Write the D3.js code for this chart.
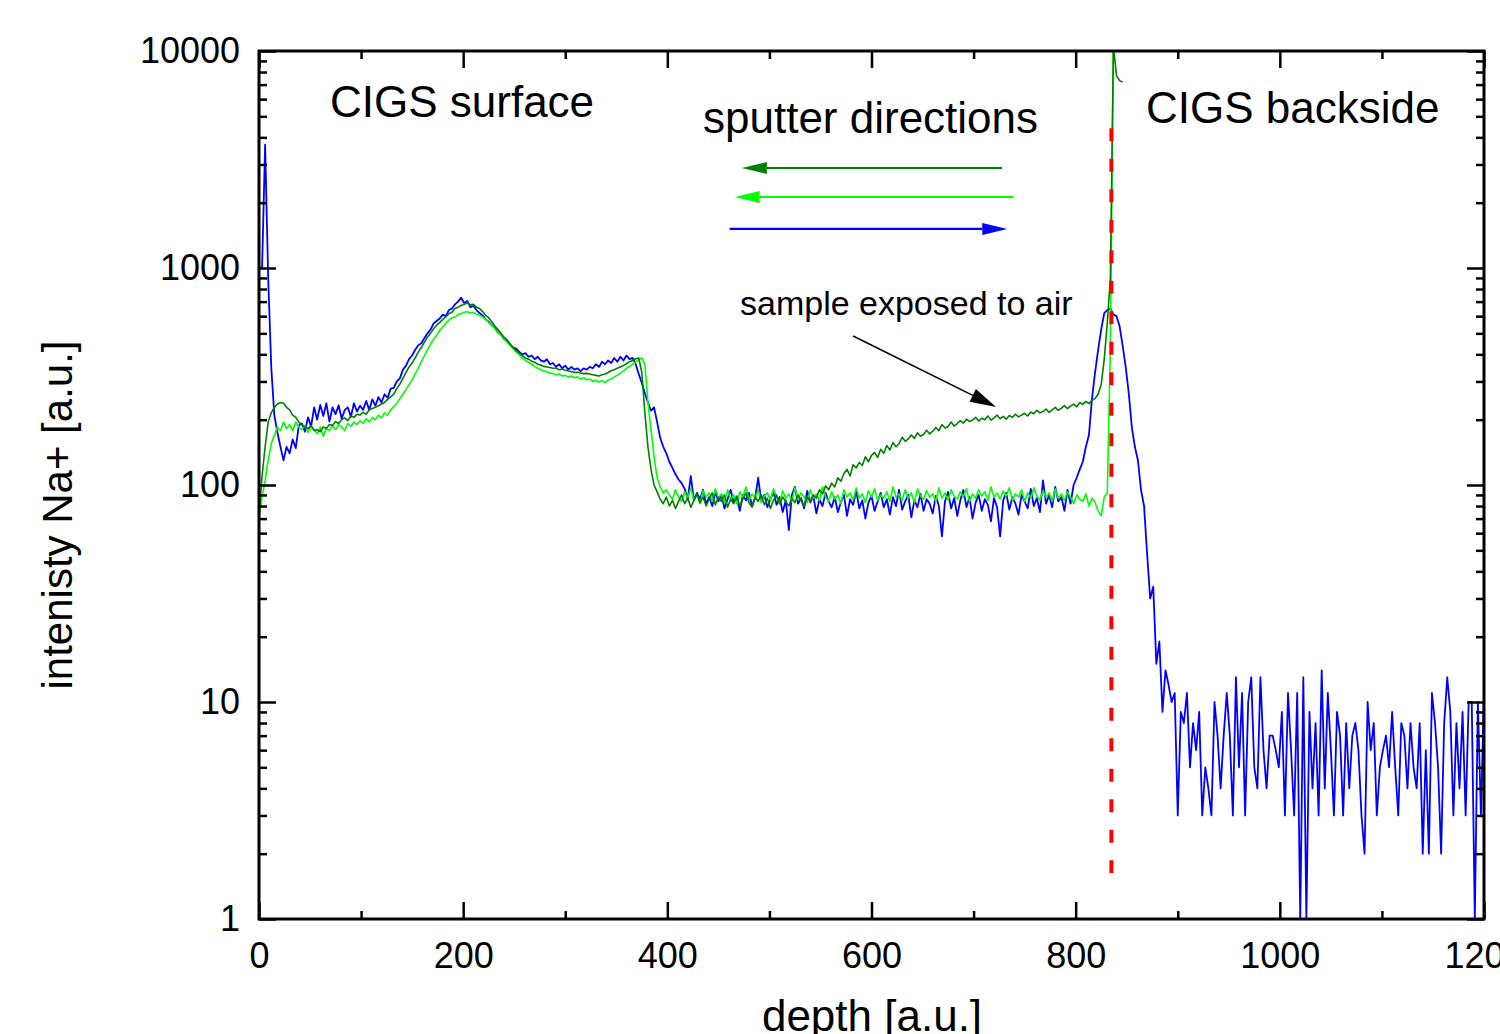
<!DOCTYPE html>
<html><head><meta charset="utf-8">
<script src="https://cdn.jsdelivr.net/npm/d3@7"></script>
<style>
body{margin:0;background:#fff}
svg{display:block}
text{font-family:"Liberation Sans",Arial,Helvetica,sans-serif;fill:#000}
</style>
</head><body>
<svg id="c" width="1500" height="1034"></svg>
<script>
// ---------------- data ----------------
const depthStep = 3; // depth spacing of the sampled points [a.u.]

// blue: sputtered from CIGS surface towards backside (d = 0 .. 1200)
const blueValues = [
/*0*/    1000,1000,3700,900,350,210,175,150,130,150,
/*30*/   140,162,148,188,192,176,205,186,228,200,
/*60*/   234,208,238,196,228,212,233,202,222,228,
/*90*/   206,238,218,232,222,244,222,248,232,254,
/*120*/  240,262,252,278,280,300,310,340,355,380,
/*150*/  395,420,440,450,475,500,520,555,570,585,
/*180*/  610,600,640,650,680,700,730,690,705,660,
/*210*/  670,640,620,605,580,565,545,530,505,495,
/*240*/  470,465,445,430,425,410,400,405,390,395,
/*270*/  380,390,375,370,380,360,365,350,360,345,
/*300*/  355,340,350,340,345,335,345,340,350,345,
/*330*/  360,350,370,360,375,365,385,370,390,375,
/*360*/  395,380,385,360,325,295,265,240,220,228,
/*390*/  195,165,150,140,128,120,112,106,102,96,
/*420*/  86,110,85,92,86,95,82,88,80,93,
/*450*/  84,90,78,86,95,83,88,76,90,85,
/*480*/  92,80,87,108,84,90,79,86,93,81,
/*510*/  88,75,85,62,90,98,82,87,78,94,
/*540*/  83,89,74,86,80,92,84,79,88,75,
/*570*/  83,90,72,86,81,94,78,85,70,83,
/*600*/  89,76,84,92,79,86,73,88,80,95,
/*630*/  77,84,90,71,85,79,91,76,86,82,
/*660*/  74,89,80,58,84,93,78,87,72,85,
/*690*/  95,79,88,70,83,90,76,86,81,68,
/*720*/  87,79,58,85,92,77,88,82,73,90,
/*750*/  84,78,96,80,87,75,105,82,90,79,
/*780*/  98,84,88,76,95,82,100,108,118,128,
/*810*/  150,170,250,330,420,520,620,640,650,610,
/*840*/  600,540,440,350,265,185,150,130,95,80,
/*870*/  48,30,34,15,19,9,14,12,10,11,
/*900*/  3,9,8,11,5,8,6,9,3,5,
/*930*/  4,3,10,7,4,7,11,7,3,13,
/*960*/  5,11,3,10,13,5,4,13,6,4,
/*990*/  7,7,6,5,9,3,11,6,3,11,
/*1020*/ 1,13,1,9,4,8,3,14,4,11,
/*1050*/ 6,3,9,7,3,8,4,7,8,6,
/*1080*/ 3,2,10,6,8,3,5,6,7,5,
/*1110*/ 9,5,3,8,7,4,8,5,4,8,
/*1140*/ 2,6,2,11,8,5,2,8,13,9,
/*1170*/ 3,8,4,9,3,10,10,1,10,3,
/*1200*/ 11
];

// dark green: sputtered from backside, sample exposed to air (d = 0 .. 846)
const darkGreenValues = [
/*0*/    72,110,150,195,215,228,236,240,238,228,
/*30*/   222,210,205,195,190,185,182,188,178,180,
/*60*/   176,185,182,190,188,196,192,200,204,198,
/*90*/   208,205,212,210,216,212,222,225,228,232,
/*120*/  236,240,248,255,262,278,292,310,330,350,
/*150*/  365,385,410,430,455,480,500,525,545,560,
/*180*/  580,595,615,625,650,660,672,680,690,675,
/*210*/  680,660,650,630,605,590,565,540,520,500,
/*240*/  480,465,445,430,415,405,395,385,380,372,
/*270*/  368,360,357,352,350,348,345,345,340,342,
/*300*/  338,335,333,330,331,328,326,327,325,322,
/*330*/  320,318,322,325,330,336,340,345,350,355,
/*360*/  362,370,375,382,385,330,215,150,118,100,
/*390*/  93,86,82,88,80,85,78,84,90,82,
/*420*/  87,79,85,91,83,88,80,86,92,81,
/*450*/  88,84,90,79,86,82,89,80,86,92,
/*480*/  83,79,88,84,90,81,87,78,85,90,
/*510*/  82,88,84,80,87,83,90,85,80,88,
/*540*/  84,90,87,95,91,99,95,102,98,108,
/*570*/  104,113,118,110,124,120,127,123,135,128,
/*600*/  137,141,134,146,140,152,145,157,150,155,
/*630*/  166,159,163,170,164,174,168,171,179,172,
/*660*/  177,184,178,190,183,186,195,187,192,198,
/*690*/  193,201,196,199,205,197,203,200,208,199,
/*720*/  204,210,202,207,201,209,205,212,206,210,
/*750*/  214,208,217,213,221,215,218,224,216,222,
/*780*/  228,221,226,232,225,231,236,229,240,235,
/*810*/  243,237,246,250,262,290,380,560,900,10500,
/*840*/  7700,7300,7200
];

// light green: sputtered from backside (d = 0 .. 837)
const lightGreenValues = [
/*0*/    70,88,105,130,155,170,185,178,195,182,
/*30*/   190,178,195,185,180,188,175,186,180,172,
/*60*/   185,168,182,178,188,180,190,185,178,192,
/*90*/   186,195,190,198,192,202,195,205,200,210,
/*120*/  204,215,210,222,230,238,250,262,275,290,
/*150*/  305,325,345,370,395,420,445,470,490,515,
/*180*/  535,555,575,590,595,610,615,625,628,620,
/*210*/  625,612,605,595,580,560,545,525,505,490,
/*240*/  470,455,440,425,410,398,385,375,368,360,
/*270*/  352,345,340,336,332,328,326,322,325,318,
/*300*/  320,315,318,312,315,308,312,305,308,300,
/*330*/  304,298,302,296,305,308,315,320,328,335,
/*360*/  345,352,360,370,378,385,360,240,180,135,
/*390*/  108,98,92,95,90,86,95,88,84,93,
/*420*/  87,97,85,90,82,94,88,92,84,96,
/*450*/  87,91,83,95,86,90,82,93,88,98,
/*480*/  85,91,87,95,83,89,92,85,96,88,
/*510*/  82,94,87,91,84,97,86,92,88,83,
/*540*/  95,87,91,85,98,88,84,93,86,90,
/*570*/  82,95,88,92,85,97,87,91,83,94,
/*600*/  88,96,85,90,87,93,84,98,88,91,
/*630*/  85,95,87,92,83,96,89,86,94,88,
/*660*/  91,84,97,87,92,85,95,89,86,93,
/*690*/  88,96,84,91,87,95,89,93,85,98,
/*720*/  88,92,86,94,89,97,85,91,88,95,
/*750*/  84,92,87,97,89,85,94,88,92,84,
/*780*/  96,87,91,85,93,88,82,90,86,84,
/*810*/  91,80,87,83,76,72,88,92,430,12000
];

const xMajorTicks = [0,200,400,600,800,1000,1200];
const xMinorTicks = [100,300,500,700,900,1100];
const yMajorTicks = [1,10,100,1000,10000];
const yMinorTicks = [2,3,4,5,6,7,8,9,20,30,40,50,60,70,80,90,200,300,400,500,600,700,800,900,2000,3000,4000,5000,6000,7000,8000,9000];

const interfaceDepth = 835;          // red dashed line
const interfaceRange = [1.63, 4400]; // its vertical extent (intensity)

// sputter-direction arrows [depth from, depth to, intensity level]
const sputterArrows = [
  {color:"#007f00", from:728, to:473, level:2890},
  {color:"#00ff00", from:739, to:466, level:2124},
  {color:"#0000ff", from:461, to:733, level:1513}
];
// "sample exposed to air" pointer [depth, intensity]
const airArrow = {from:[582, 486], to:[722, 229]};

// ---------------- drawing ----------------
const svg = d3.select("#c");
const P = {left:259, right:1484, top:51, bottom:919};
const x = d3.scaleLinear().domain([0,1200]).range([P.left, P.right]);
const y = d3.scaleLog().domain([1,10000]).range([P.bottom, P.top]);

svg.append("rect").attr("width",1500).attr("height",1034).attr("fill","#fff");

svg.append("clipPath").attr("id","clip").append("rect")
  .attr("x",P.left).attr("y",P.top).attr("width",P.right-P.left).attr("height",P.bottom-P.top);

const plotG = svg.append("g").attr("clip-path","url(#clip)");
const line = d3.line().x((v,i)=>x(i*depthStep)).y(v=>y(v));

plotG.append("path").datum(blueValues).attr("d",line)
  .attr("fill","none").attr("stroke","#0000ff").attr("stroke-width",1.8).attr("stroke-linejoin","round");
plotG.append("path").datum(lightGreenValues).attr("d",line)
  .attr("fill","none").attr("stroke","#00ff00").attr("stroke-width",1.6).attr("stroke-linejoin","round");
plotG.append("path").datum(darkGreenValues).attr("d",line)
  .attr("fill","none").attr("stroke","#007f00").attr("stroke-width",1.6).attr("stroke-linejoin","round");

// red dashed interface line
svg.append("line")
  .attr("x1",x(interfaceDepth)).attr("x2",x(interfaceDepth))
  .attr("y1",y(interfaceRange[1])).attr("y2",y(interfaceRange[0]))
  .attr("stroke","#ff0000").attr("stroke-width",4).attr("stroke-dasharray","13 17.5");

// axes
function addAxis(gen, vals, len, tr, fmt, pad){
  const a = gen.tickValues(vals).tickSize(-len).tickSizeOuter(0).tickPadding(pad||3);
  a.tickFormat(fmt || (()=>""));
  const g = svg.append("g").attr("transform",tr).call(a);
  g.select(".domain").remove();
  g.selectAll(".tick line").attr("stroke","#000").attr("stroke-width",2.5);
  g.selectAll("text").attr("font-size",36).attr("fill","#000")
    .attr("font-family",'"Liberation Sans",Arial,sans-serif');
  return g;
}
addAxis(d3.axisBottom(x), xMajorTicks, 17, `translate(0,${P.bottom})`, d=>String(d), 23);
addAxis(d3.axisBottom(x), xMinorTicks, 8, `translate(0,${P.bottom})`);
addAxis(d3.axisTop(x), xMajorTicks, 17, `translate(0,${P.top})`);
addAxis(d3.axisTop(x), xMinorTicks, 8, `translate(0,${P.top})`);
addAxis(d3.axisLeft(y), yMajorTicks, 17, `translate(${P.left},0)`, d=>String(d), 19);
addAxis(d3.axisLeft(y), yMinorTicks, 8, `translate(${P.left},0)`);
addAxis(d3.axisRight(y), yMajorTicks, 17, `translate(${P.right},0)`);
addAxis(d3.axisRight(y), yMinorTicks, 8, `translate(${P.right},0)`);

svg.append("rect").attr("x",P.left).attr("y",P.top)
  .attr("width",P.right-P.left).attr("height",P.bottom-P.top)
  .attr("fill","none").attr("stroke","#000").attr("stroke-width",3);

// sputter direction arrows
function arrow(x1,y1,x2,y2,color,w,headLen,headHalf){
  const ang = Math.atan2(y2-y1,x2-x1);
  const bx = x2-headLen*Math.cos(ang), by = y2-headLen*Math.sin(ang);
  svg.append("line").attr("x1",x1).attr("y1",y1).attr("x2",bx).attr("y2",by)
    .attr("stroke",color).attr("stroke-width",w);
  const nx = -Math.sin(ang), ny = Math.cos(ang);
  svg.append("polygon").attr("fill",color)
    .attr("points",[[x2,y2],[bx+nx*headHalf,by+ny*headHalf],[bx-nx*headHalf,by-ny*headHalf]].map(p=>p.join(",")).join(" "));
}
sputterArrows.forEach(a=>arrow(x(a.from),y(a.level),x(a.to),y(a.level),a.color,2.2,25,6));
arrow(x(airArrow.from[0]),y(airArrow.from[1]),x(airArrow.to[0]),y(airArrow.to[1]),"#000",1.6,26,7);

// texts
svg.append("text").attr("x",330).attr("y",117).attr("font-size",44).text("CIGS surface");
svg.append("text").attr("x",703).attr("y",133).attr("font-size",44).text("sputter directions");
svg.append("text").attr("x",1146).attr("y",123).attr("font-size",44).text("CIGS backside");
svg.append("text").attr("x",740).attr("y",315).attr("font-size",34).text("sample exposed to air");

svg.append("text").attr("transform","translate(72,515) rotate(-90)")
  .attr("text-anchor","middle").attr("font-size",42).text("intenisty Na+ [a.u.]");
svg.append("text").attr("x",872).attr("y",1031)
  .attr("text-anchor","middle").attr("font-size",44).text("depth [a.u.]");
</script>
</body></html>
